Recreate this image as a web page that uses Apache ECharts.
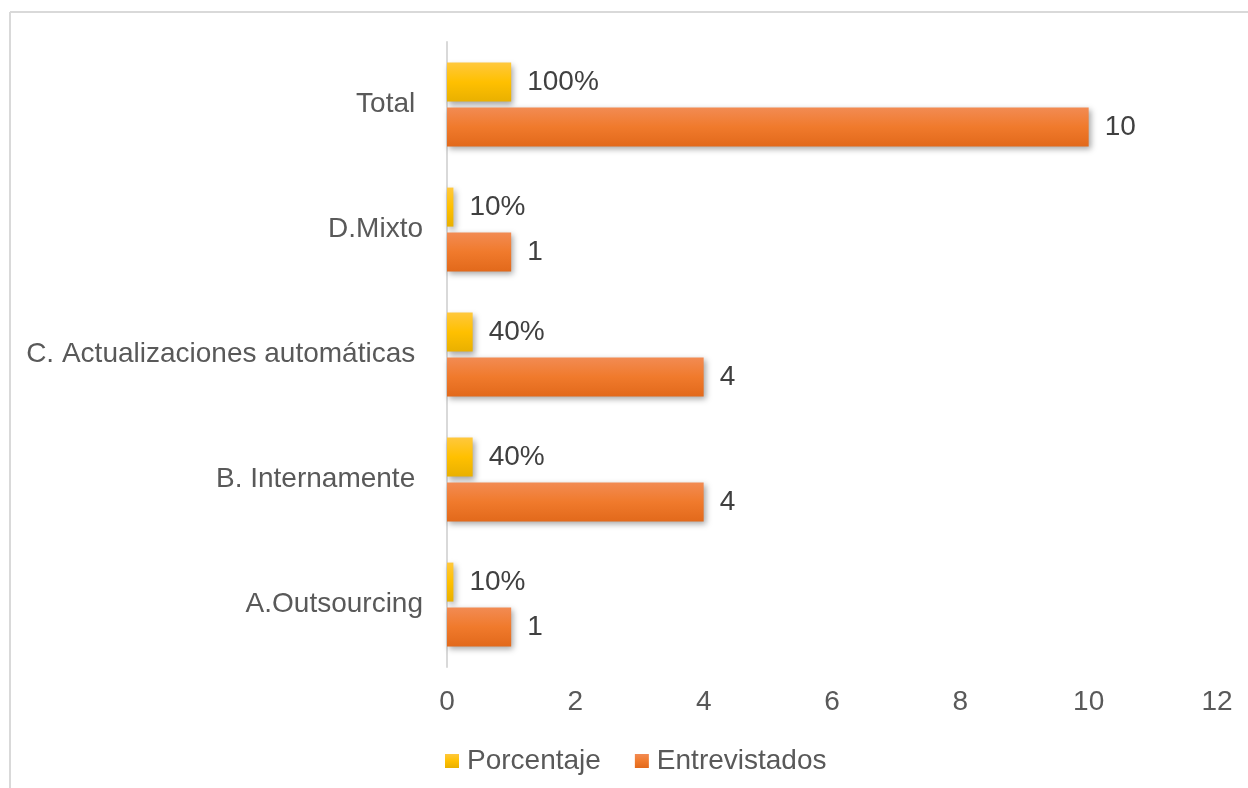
<!DOCTYPE html>
<html>
<head>
<meta charset="utf-8">
<script src="https://cdn.jsdelivr.net/npm/echarts@6/dist/echarts.min.js"></script>
<style>
  html, body { margin: 0; padding: 0; background: #fff; }
  #chart { width: 1248px; height: 788px; }
</style>
</head>
<body>
<div id="chart"></div>
<script>
// Categories, listed bottom to top along the category axis
const categories = ['A.Outsourcing', 'B. Internamente ', 'C. Actualizaciones automáticas ', 'D.Mixto', 'Total '];
// Share of respondents per option (1 = 100%)
const porcentaje = [0.1, 0.4, 0.4, 0.1, 1];
// Number of respondents per option
const entrevistados = [1, 4, 4, 1, 10];
const xTicks = { min: 0, max: 12, interval: 2 };

const textColor = '#595959';
const font = 'Liberation Sans, Arial, sans-serif';
const fontSize = 28;

function vGrad(top, mid, bottom) {
  return new echarts.graphic.LinearGradient(0, 0, 0, 1, [
    { offset: 0, color: top },
    { offset: 0.5, color: mid },
    { offset: 1, color: bottom }
  ]);
}

const barShadow = {
  shadowColor: 'rgba(0,0,0,0.35)',
  shadowBlur: 6,
  shadowOffsetX: 2,
  shadowOffsetY: 3
};

const chart = echarts.init(document.getElementById('chart'));
chart.setOption({
  animation: false,
  textStyle: { fontFamily: font },
  graphic: [
    { type: 'line', shape: { x1: 10, y1: 12, x2: 1248, y2: 12 }, style: { stroke: '#D9D9D9', lineWidth: 2 } },
    { type: 'line', shape: { x1: 10, y1: 12, x2: 10, y2: 788 }, style: { stroke: '#D9D9D9', lineWidth: 2 } }
  ],
  grid: { left: 447, right: 31, top: 42, bottom: 121 },
  legend: {
    data: ['Porcentaje', 'Entrevistados'],
    left: 440,
    top: 742,
    itemWidth: 14,
    itemHeight: 14,
    itemGap: 34,
    icon: 'rect',
    textStyle: { fontSize: fontSize, color: textColor, fontFamily: font, padding: [0, 0, 0, 3] }
  },
  xAxis: {
    type: 'value',
    min: xTicks.min,
    max: xTicks.max,
    interval: xTicks.interval,
    axisLine: { show: false },
    axisTick: { show: false },
    splitLine: { show: false },
    axisLabel: { fontSize: fontSize, color: textColor, margin: 21, fontFamily: font }
  },
  yAxis: {
    type: 'category',
    data: categories,
    axisLine: { show: true, lineStyle: { color: '#D9D9D9', width: 2 } },
    axisTick: { show: false },
    axisLabel: { fontSize: fontSize, color: textColor, margin: 24, fontFamily: font }
  },
  series: [
    {
      name: 'Porcentaje',
      type: 'bar',
      data: porcentaje,
      barWidth: 39,
      barGap: '15%',
      itemStyle: Object.assign({ color: vGrad('#FFC83D', '#FFC000', '#E9B000') }, barShadow),
      label: {
        show: true,
        position: 'right',
        distance: 16,
        fontSize: fontSize,
        color: '#404040',
        fontFamily: font,
        formatter: p => Math.round(p.value * 100) + '%'
      }
    },
    {
      name: 'Entrevistados',
      type: 'bar',
      data: entrevistados,
      barWidth: 39,
      barGap: '15%',
      itemStyle: Object.assign({ color: vGrad('#F28B53', '#F07A2C', '#E2691B') }, barShadow),
      label: {
        show: true,
        position: 'right',
        distance: 16,
        fontSize: fontSize,
        color: '#404040',
        fontFamily: font
      }
    }
  ]
});
</script>
</body>
</html>
